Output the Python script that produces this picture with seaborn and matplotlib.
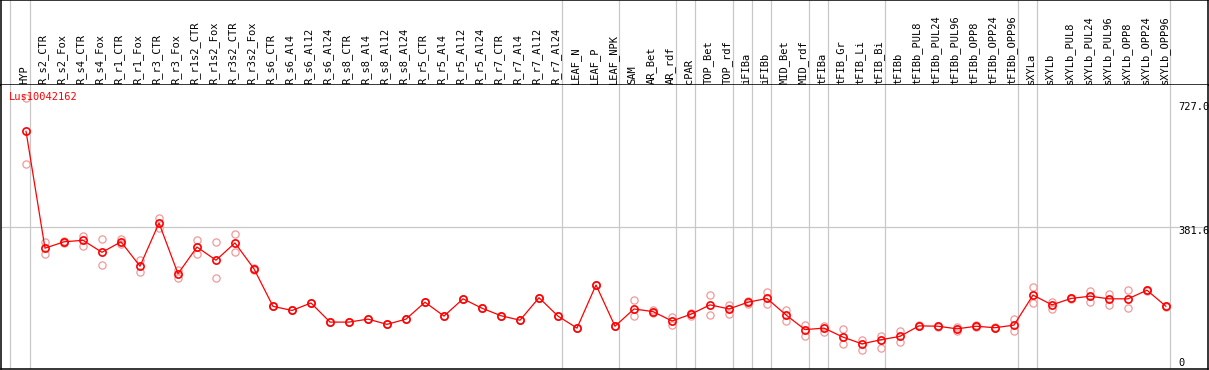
import numpy as np
import pandas as pd
import matplotlib
matplotlib.use("Agg")
import matplotlib.pyplot as plt
import seaborn as sns

# ---------------- data ----------------
categories = [
    "HYP", "R_s2_CTR", "R_s2_Fox", "R_s4_CTR", "R_s4_Fox", "R_r1_CTR", "R_r1_Fox",
    "R_r3_CTR", "R_r3_Fox", "R_r1s2_CTR", "R_r1s2_Fox", "R_r3s2_CTR", "R_r3s2_Fox",
    "R_s6_CTR", "R_s6_Al4", "R_s6_Al12", "R_s6_Al24", "R_s8_CTR", "R_s8_Al4",
    "R_s8_Al12", "R_s8_Al24", "R_r5_CTR", "R_r5_Al4", "R_r5_Al12", "R_r5_Al24",
    "R_r7_CTR", "R_r7_Al4", "R_r7_Al12", "R_r7_Al24", "LEAF_N", "LEAF_P", "LEAF_NPK",
    "SAM", "AR_Bet", "AR_rdf", "cPAR", "TOP_Bet", "TOP_rdf", "iFIBa", "iFIBb",
    "MID_Bet", "MID_rdf", "tFIBa", "tFIB_Gr", "tFIB_Li", "tFIB_Bi", "tFIBb",
    "tFIBb_PUL8", "tFIBb_PUL24", "tFIBb_PUL96", "tFIBb_OPP8", "tFIBb_OPP24",
    "tFIBb_OPP96", "sXYLa", "sXYLb", "sXYLb_PUL8", "sXYLb_PUL24", "sXYLb_PUL96",
    "sXYLb_OPP8", "sXYLb_OPP24", "sXYLb_OPP96",
]
group_sizes = [1, 28, 3, 3, 1, 2, 1, 1, 2, 1, 3, 7, 1, 7]

mean_expr = [
    638, 326, 343, 347, 315, 343, 278, 393, 258, 329, 294, 340, 271,
    171, 160, 180, 129, 129, 137, 123, 137, 182, 145, 191, 166, 146, 134, 194, 145,
    113, 228, 118,
    164, 157, 132, 150, 175, 164, 182, 192, 148, 109, 113, 89, 71, 82, 91,
    119, 118, 111, 118, 114, 121, 201, 175, 192, 198, 191, 191, 214, 171,
]
rep_a = [
    727, 342, 346, 359, 350, 350, 295, 406, 267, 347, 342, 363, 272,
    171, 160, 180, 129, 129, 137, 123, 137, 182, 145, 191, 166, 146, 134, 194, 145,
    113, 228, 118,
    188, 160, 143, 154, 201, 175, 185, 210, 162, 121, 119, 111, 81, 93, 105,
    120, 119, 115, 120, 116, 137, 223, 182, 193, 212, 205, 214, 215, 172,
]
rep_b = [
    550, 310, 340, 333, 281, 337, 262, 381, 247, 310, 246, 315, 269,
    171, 160, 180, 129, 129, 137, 123, 137, 182, 145, 191, 166, 146, 134, 194, 145,
    113, 228, 118,
    146, 153, 121, 146, 148, 150, 178, 178, 132, 91, 102, 70, 55, 59, 75,
    118, 117, 106, 116, 112, 105, 180, 165, 191, 182, 175, 167, 213, 170,
]
gene_name = "Lus10042162"
axis_labels = ["727.0", "381.6", "0"]
axis_values = [727.0, 381.6, 0.0]

# ---------------- figure ----------------
W, H = 1209, 370
fig = plt.figure(figsize=(W / 100, H / 100), dpi=100)
sns.set_style("white")
plt.rcParams["font.family"] = ["DejaVu Sans Mono"]

x0_px, step_px = 26, 19
left_px, right_px = 1, 1208
xlim = ((left_px - x0_px) / step_px, (right_px - x0_px) / step_px)

header_top, header_bot, plot_bot = 0, 85, 369
ax_h = fig.add_axes([left_px / W, (H - header_bot) / H,
                     (right_px - left_px) / W, (header_bot - header_top) / H - 0.001])
ax = fig.add_axes([left_px / W, (H - plot_bot) / H,
                   (right_px - left_px) / W, (plot_bot - header_bot) / H])

# y mapping: value = (370.5 - ypx)/0.3752
k, y0 = 0.3752, 370.5
ylim = ((y0 - plot_bot) / k, (y0 - header_bot) / k)

grid_c = "#C8C8C8"
xs = np.arange(len(categories))

# group boundary lines
ends = np.cumsum(group_sizes) - 1
bounds = [-0.84] + list(ends + 4 / step_px)
for a in (ax, ax_h):
    for b in bounds:
        a.axvline(b, color=grid_c, lw=0.9, zorder=0)
    a.set_xlim(*xlim)
    a.set_xticks([])
    a.set_yticks([])
    for s in a.spines.values():
        s.set_color("black")
        s.set_linewidth(1.1)

ax.spines["top"].set_visible(False)
ax.set_ylim(*ylim)
ax.axhline(axis_values[1], color=grid_c, lw=0.9, zorder=0)

# header labels
ax_h.set_ylim(0, 1)
for i, lab in enumerate(categories):
    ax_h.text(i - 0.1, 0.015, lab, rotation=90, ha="center", va="bottom",
              fontsize=7.5, color="black")

# replicates
rep_df = pd.DataFrame({
    "x": np.concatenate([xs, xs]),
    "value": np.concatenate([rep_a, rep_b]),
})
sns.lineplot(data=rep_df, x="x", y="value", estimator=None, ax=ax,
             linestyle="none", marker="o", markersize=5.2,
             markerfacecolor="none", markeredgecolor="#EE9A9A",
             markeredgewidth=0.9, zorder=2)

# mean line
mean_df = pd.DataFrame({"x": xs, "value": mean_expr})
sns.lineplot(data=mean_df, x="x", y="value", ax=ax, color="red", lw=0.9,
             marker="o", markersize=5.2, markerfacecolor="none",
             markeredgecolor="red", markeredgewidth=1.2, zorder=3)

ax.set_xlabel("")
ax.set_ylabel("")
ax.set_xlim(*xlim)
ax.set_ylim(*ylim)

# right-side value labels
lab_x = (1178 - x0_px) / step_px
offsets = [-9, -4, 8]
for lab, v, off in zip(axis_labels, axis_values, offsets):
    ax.annotate(lab, xy=(lab_x, v), xytext=(0, off * 0.72),
                textcoords="offset points", ha="left", va="center",
                fontsize=7.5, color="black", annotation_clip=False)

# gene name
ax.text((9 - x0_px) / step_px, (y0 - 97) / k, gene_name, color="red",
        fontsize=7.5, ha="left", va="center")

fig.savefig("out.png", dpi=100)
